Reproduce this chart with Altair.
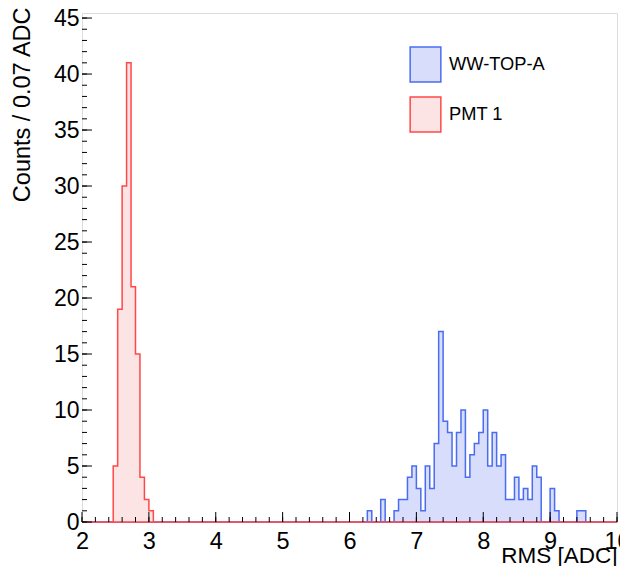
import altair as alt
import pandas as pd

# ---- data ----
bin_width = 1.0 / 15.0          # printed as "0.07 ADC"
x_min, x_max = 2.0, 10.0
first_bin_index = 30            # 2.0 / bin_width
n_bins = 120                    # 2 .. 10

series_names = ["WW-TOP-A", "PMT 1"]

red_first_bin = 37              # 2.467 ADC
red_counts = [5, 19, 30, 41, 21, 15, 4, 2, 1]

blue_first_bin = 94             # 6.267 ADC
blue_counts = [1, 0, 0, 2, 0, 0, 1, 2, 2, 4,
               5, 3, 1, 5, 3, 7, 17, 9, 8, 5,
               8, 10, 4, 6, 7, 8, 10, 5, 8, 5,
               6, 2, 2, 4, 2, 3, 2, 5, 4, 0,
               0, 3, 1, 0, 0, 0, 0, 1, 1]

fill_colors = ["#d7ddfa", "#fde4e4"]
line_colors = ["#4a6cf0", "#ff4848"]

x_major = [2, 3, 4, 5, 6, 7, 8, 9, 10]
x_minor = [round(2 + 0.2 * i, 1) for i in range(41)]
y_major = [0, 5, 10, 15, 20, 25, 30, 35, 40, 45]
y_minor = list(range(0, 46))


def hist_rows(name, first, counts):
    rows = []
    for k in range(first_bin_index, first_bin_index + n_bins):
        i = k - first
        c = counts[i] if 0 <= i < len(counts) else 0
        rows.append({"series": name, "x": k / 15.0, "count": c})
    rows.append({"series": name, "x": x_max, "count": 0})
    return rows


blue_df = pd.DataFrame(hist_rows(series_names[0], blue_first_bin, blue_counts))
red_df = pd.DataFrame(hist_rows(series_names[1], red_first_bin, red_counts))

FONT = "Liberation Sans"
W, H = 535, 509

x_scale = alt.Scale(domain=[x_min, x_max], nice=False, zero=False)
y_scale = alt.Scale(domain=[0, 45.45], nice=False, zero=True)

x_axis = alt.Axis(values=x_major, ticks=False, domain=False, grid=False,
                  labelFontSize=23.5, labelPadding=7, labelColor="black",
                  labelFont=FONT, labelFlush=False, labelOverlap=False, format="d",
                  title="RMS [ADC]", titleFont=FONT, titleFontSize=22.5,
                  titleFontWeight="normal", titleColor="black",
                  titleX=W, titleY=40, titleAlign="right",
                  titleBaseline="alphabetic", titleAngle=0)
y_axis = alt.Axis(values=y_major, ticks=False, domain=False, grid=False,
                  labelFontSize=23, labelPadding=3, labelColor="black",
                  labelFont=FONT, labelFlush=False, labelOverlap=False,
                  labelBaseline="middle",
                  title="Counts / 0.07 ADC", titleFont=FONT, titleFontSize=23.5,
                  titleFontWeight="normal", titleColor="black",
                  titleX=-60, titleY=-6, titleAngle=270, titleAlign="right",
                  titleBaseline="middle")

x_enc = alt.X("x:Q", scale=x_scale, axis=x_axis)
y_enc = alt.Y("count:Q", scale=y_scale, axis=y_axis)

legend = alt.Legend(orient="none", legendX=327, legendY=35, title=None,
                    symbolType="M-1,-1.14L1,-1.14L1,1.14L-1,1.14Z",
                    symbolSize=942, symbolStrokeWidth=1.5, symbolOpacity=1,
                    labelFont=FONT, labelFontSize=18.3, labelColor="black",
                    labelOffset=7, rowPadding=9, padding=0, labelLimit=300)

fill_enc = alt.Fill("series:N", scale=alt.Scale(domain=series_names, range=fill_colors),
                    legend=legend)
stroke_enc = alt.Stroke("series:N", scale=alt.Scale(domain=series_names, range=line_colors),
                        legend=legend)


def hist_layer(df):
    return alt.Chart(df).mark_area(interpolate="step-after", strokeWidth=1.5,
                                   fillOpacity=1).encode(
        x=x_enc, y=y_enc, fill=fill_enc, stroke=stroke_enc)


blue_layer = hist_layer(blue_df)
red_layer = hist_layer(red_df)

xmaj = alt.Chart(pd.DataFrame({"x": x_major})).mark_rule(color="black", strokeWidth=1).encode(
    x=x_enc, y=alt.value(H), y2=alt.value(H - 10))
xmin = alt.Chart(pd.DataFrame({"x": x_minor})).mark_rule(color="black", strokeWidth=1).encode(
    x=x_enc, y=alt.value(H), y2=alt.value(H - 5))
ymaj = alt.Chart(pd.DataFrame({"count": y_major})).mark_rule(color="black", strokeWidth=1).encode(
    y=y_enc, x=alt.value(0), x2=alt.value(10))
ymin = alt.Chart(pd.DataFrame({"count": y_minor})).mark_rule(color="black", strokeWidth=1).encode(
    y=y_enc, x=alt.value(0), x2=alt.value(5))

chart = alt.layer(blue_layer, red_layer, xmin, xmaj, ymin, ymaj).properties(
    width=W, height=H,
    autosize=alt.AutoSizeParams(type="none"),
    padding={"left": 74, "top": 5, "right": 3, "bottom": 44},
).configure_view(stroke="black", strokeWidth=1).configure(font=FONT)

chart.save("out.html", embed_options={"renderer": "svg", "actions": False})
